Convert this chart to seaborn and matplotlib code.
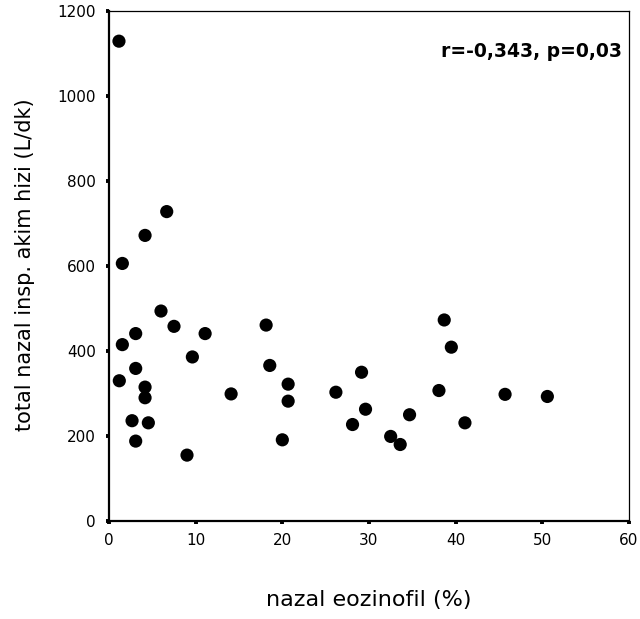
import matplotlib
matplotlib.use("Agg")
import matplotlib.pyplot as plt
import seaborn as sns
import pandas as pd

# nazal eozinofil (%)
eozinofil = [1.15, 1.54, 4.16, 6.66, 6.0, 7.5, 3.08, 11.09,
             1.54, 9.62, 3.08, 1.19, 4.16, 4.16, 14.09, 2.66, 4.54, 3.08, 9.0,
             18.13, 18.55, 20.67, 20.67, 20.0, 26.18, 29.14, 29.6, 28.1, 32.5, 33.6, 34.68,
             38.68, 39.5, 38.07, 41.07, 45.7, 50.58]
# total nazal insp. akim hizi (L/dk)
akim = [1129, 606, 672, 728, 494, 458, 441, 441,
        415, 386, 359, 330, 315, 290, 299, 236, 231, 188, 155,
        461, 366, 322, 282, 191, 303, 350, 263, 227, 199, 180, 250,
        473, 409, 307, 231, 298, 293]

x_ticks = [0, 10, 20, 30, 40, 50, 60]
y_ticks = [0, 200, 400, 600, 800, 1000, 1200]
x_label = "nazal eozinofil (%)"
y_label = "total nazal insp. akim hizi (L/dk)"
annotation = "r=-0,343, p=0,03"

df = pd.DataFrame({"eozinofil": eozinofil, "akim": akim})

sns.set_style("ticks")
plt.rcParams["font.family"] = ["DejaVu Sans"]
plt.rcParams["text.color"] = "black"
plt.rcParams["axes.labelcolor"] = "black"
plt.rcParams["xtick.color"] = "black"
plt.rcParams["ytick.color"] = "black"
plt.rcParams["xtick.labelcolor"] = "black"
plt.rcParams["ytick.labelcolor"] = "black"

fig = plt.figure(figsize=(6.4, 6.19), dpi=100)
ax = fig.add_axes([109 / 640, 1 - 521 / 619, 520 / 640, 510 / 619])

sns.scatterplot(data=df, x="eozinofil", y="akim", ax=ax, color="black",
                s=90, edgecolor="none", linewidth=0, legend=False)

ax.set_xlim(0, 60)
ax.set_ylim(0, 1200)
ax.set_xticks(x_ticks)
ax.set_yticks(y_ticks)
ax.set_xticklabels([str(t) for t in x_ticks], fontsize=11, color="black")
ax.set_yticklabels([str(t) for t in y_ticks], fontsize=11, color="black")
ax.tick_params(axis="both", direction="out", length=2.5, width=2.8, color="black")
ax.tick_params(axis="x", pad=6)
ax.tick_params(axis="y", pad=7)

for side in ["left", "bottom"]:
    ax.spines[side].set_linewidth(1.6)
    ax.spines[side].set_color("black")
for side in ["top", "right"]:
    ax.spines[side].set_visible(True)
    ax.spines[side].set_linewidth(0.9)
    ax.spines[side].set_color("black")

ax.set_xlabel(x_label, fontsize=16, va="center", color="black")
ax.set_ylabel(y_label, fontsize=15, va="center", color="black")
ax.xaxis.set_label_coords(0.5, -0.155)
ax.yaxis.set_label_coords(-0.1615, 0.503)

ax.text(0.9865, 0.921, annotation, transform=ax.transAxes, ha="right", va="center",
        fontsize=13.5, fontweight="bold", color="black")

fig.savefig("out.png", dpi=100)
